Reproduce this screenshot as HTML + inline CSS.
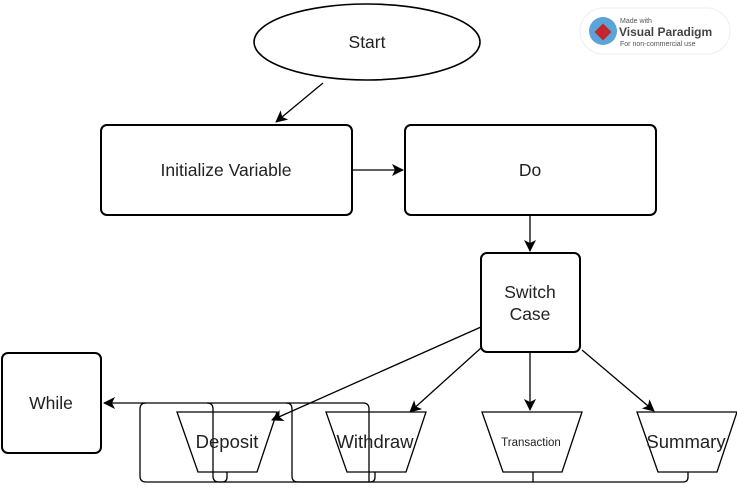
<!DOCTYPE html>
<html><head><style>
html,body{margin:0;padding:0;background:#fff;}
svg{display:block;font-family:"Liberation Sans",Arial,sans-serif;}
</style></head><body>
<svg width="737" height="491" viewBox="0 0 737 491" xmlns="http://www.w3.org/2000/svg">
<defs>
<marker id="a" markerWidth="12" markerHeight="12" refX="11" refY="6" orient="auto" markerUnits="userSpaceOnUse">
<path d="M0,0 L12,6 L0,12 L3,6 z" fill="#000"/></marker>
</defs>
<rect width="737" height="491" fill="#fff"/>
<rect x="580" y="8" width="150" height="46" rx="23" fill="#fff" stroke="#eee"/>
<circle cx="603" cy="31" r="14" fill="#5ba3d9"/>
<rect x="597" y="26" width="12" height="12" fill="#c0282d" transform="rotate(45 603 32)"/>
<text x="620" y="23" font-size="7" fill="#555">Made with</text>
<text x="619" y="36" font-size="12" font-weight="bold" fill="#444">Visual Paradigm</text>
<text x="620" y="46" font-size="7" fill="#555">For non-commercial use</text>

<g fill="none" stroke="#000" stroke-width="1.3">
<ellipse cx="367" cy="42" rx="113" ry="38" stroke-width="1.6"/>
<rect x="101" y="125" width="251" height="90" rx="6" stroke-width="2"/>
<rect x="405" y="125" width="251" height="90" rx="6" stroke-width="2"/>
<rect x="481" y="253" width="99" height="99" rx="6" stroke-width="2"/>
<rect x="2" y="353" width="99" height="100" rx="6" stroke-width="2"/>
<path d="M177,412 L277,412 L257,472 L198,472 Z"/>
<path d="M326,412 L426,412 L406,472 L347,472 Z"/>
<path d="M482,412 L582,412 L562,472 L503,472 Z"/>
<path d="M637,412 L737,412 L717,472 L658,472 Z"/>
<line x1="323" y1="83" x2="276" y2="122" marker-end="url(#a)"/>
<line x1="352" y1="170" x2="403" y2="170" marker-end="url(#a)"/>
<line x1="530" y1="215" x2="530" y2="251" marker-end="url(#a)"/>
<line x1="481" y1="327" x2="272" y2="420" marker-end="url(#a)"/>
<line x1="481" y1="348" x2="410" y2="412" marker-end="url(#a)"/>
<line x1="530" y1="352" x2="530" y2="410" marker-end="url(#a)"/>
<line x1="582" y1="350" x2="654" y2="411" marker-end="url(#a)"/>
<path d="M369,482 L369,409 Q369,403 363,403 L104,403" marker-end="url(#a)"/>
<path d="M688,472 L688,477 Q688,482 683,482 L298,482 Q292,482 292,476 L292,409 Q292,403 286,403"/>
<path d="M533,472 L533,482"/>
<path d="M375,472 L375,477 Q375,482 370,482 L146,482 Q140,482 140,476 L140,409 Q140,403 146,403"/>
<path d="M227,472 L227,477 Q227,482 222,482 L219,482 Q213,482 213,476 L213,409 Q213,403 207,403"/>
</g>
<g font-size="17.5" text-anchor="middle" fill="#222">
<text x="367" y="48">Start</text>
<text x="226" y="176">Initialize Variable</text>
<text x="530" y="176">Do</text>
<text x="530" y="298">Switch</text>
<text x="530" y="320">Case</text>
<text x="51" y="409">While</text>
<text x="227" y="448" font-size="18.5">Deposit</text>
<text x="375" y="448" font-size="18.5">Withdraw</text>
<text x="531" y="446" font-size="11.5">Transaction</text>
<text x="686" y="448" font-size="18.5">Summary</text>
</g>
</svg>
</body></html>
